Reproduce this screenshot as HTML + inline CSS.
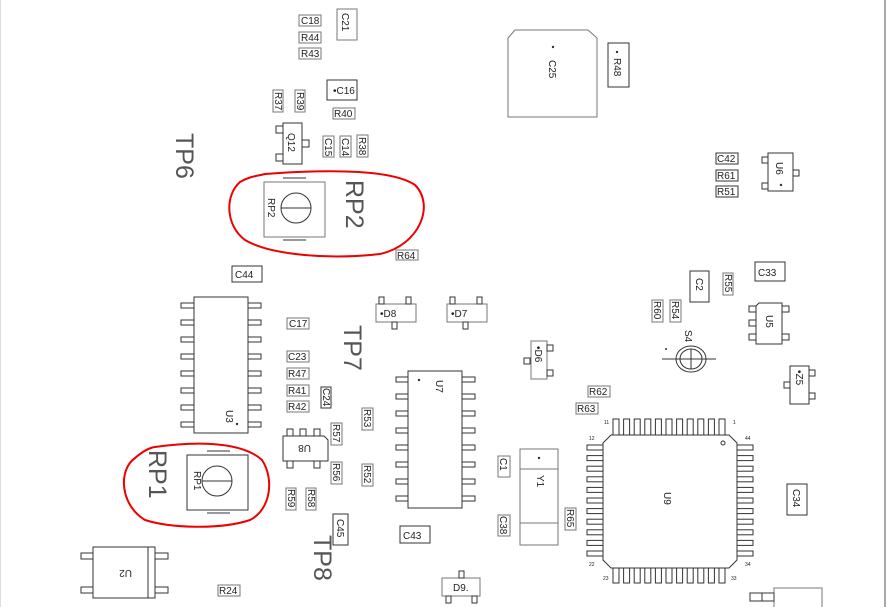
<!DOCTYPE html>
<html><head><meta charset="utf-8"><style>
html,body{margin:0;padding:0;background:#fff;width:893px;height:607px;overflow:hidden}
svg{display:block}
text{font-family:"Liberation Sans",sans-serif;fill:#222}
.s{font-size:10px}
.b{fill:none;stroke:#333;stroke-width:1}
.g{fill:none;stroke:#777;stroke-width:1}
.big{font-size:25px;fill:#555;font-weight:300}
</style></head><body>
<svg width="893" height="607" viewBox="0 0 893 607" xmlns="http://www.w3.org/2000/svg">
<line x1="885" y1="0" x2="885" y2="607" stroke="#aaa" stroke-width="2"/>
<line x1="0.5" y1="0" x2="0.5" y2="607" stroke="#ddd" stroke-width="1"/>

<rect class="g" x="299" y="15" width="22" height="11"/><text class="s" x="301" y="24">C18</text>
<rect class="g" x="299" y="32" width="22" height="11"/><text class="s" x="301" y="41">R44</text>
<rect class="g" x="299" y="48" width="22" height="11"/><text class="s" x="301" y="57">R43</text>
<rect class="g" x="337" y="9" width="20" height="31"/><text class="s" transform="translate(342,13) rotate(90)">C21</text>
<rect class="b" x="327" y="80" width="30" height="20"/><text class="s" x="333" y="94">•C16</text>
<rect class="g" x="273" y="90" width="10" height="22"/><text class="s" transform="translate(275,92) rotate(90)">R37</text>
<rect class="g" x="295" y="90" width="10" height="22"/><text class="s" transform="translate(297,92) rotate(90)">R39</text>
<rect class="g" x="333" y="108" width="22" height="11"/><text class="s" x="334" y="117">R40</text>
<rect class="b" x="283" y="123" width="19" height="41"/><text class="s" transform="translate(288,133) rotate(90)">Q12</text>
<rect class="b" x="276" y="126" width="7" height="7"/><rect class="b" x="276" y="154" width="7" height="7"/><rect class="b" x="302" y="140" width="7" height="7"/>
<rect class="g" x="323" y="136" width="11" height="21"/><text class="s" transform="translate(325,138) rotate(90)">C15</text>
<rect class="g" x="340" y="136" width="11" height="21"/><text class="s" transform="translate(342,138) rotate(90)">C14</text>
<rect class="g" x="357" y="135" width="11" height="22"/><text class="s" transform="translate(359,137) rotate(90)">R38</text>
<text class="big" transform="translate(176,133) rotate(90)">TP6</text>

<rect class="g" x="264" y="182" width="61" height="55"/>
<line x1="283" y1="178" x2="306" y2="178" stroke="#333"/><line x1="283" y1="240" x2="306" y2="240" stroke="#333"/>
<circle class="b" cx="296" cy="208" r="15"/><line x1="281" y1="208" x2="311" y2="208" stroke="#333"/>
<text class="s" transform="translate(268,198) rotate(90)">RP2</text>
<text class="big" transform="translate(346,180) rotate(90)">RP2</text>
<path d="M265,174 C320,170 390,168 415,185 C435,205 420,245 380,254 C330,260 270,255 245,240 C225,225 225,195 240,182 C250,176 258,176 265,174 Z" fill="none" stroke="#e00" stroke-width="2"/>
<rect class="g" x="396" y="250" width="22" height="10"/><text class="s" x="397" y="259">R64</text>
<rect class="b" x="232" y="266" width="30" height="16"/><text class="s" x="235" y="278">C44</text>

<rect class="b" x="194" y="297" width="54" height="136"/>
<text class="s" transform="translate(226,410) rotate(90)">U3</text><circle cx="237" cy="424" r="1.2" fill="#333"/>
<rect class="b" x="181" y="303" width="13" height="5"/><rect class="b" x="181" y="320" width="13" height="5"/><rect class="b" x="181" y="337" width="13" height="5"/><rect class="b" x="181" y="354" width="13" height="5"/><rect class="b" x="181" y="371" width="13" height="5"/><rect class="b" x="181" y="388" width="13" height="5"/><rect class="b" x="181" y="405" width="13" height="5"/><rect class="b" x="181" y="422" width="13" height="5"/>
<rect class="b" x="248" y="303" width="13" height="5"/><rect class="b" x="248" y="320" width="13" height="5"/><rect class="b" x="248" y="337" width="13" height="5"/><rect class="b" x="248" y="354" width="13" height="5"/><rect class="b" x="248" y="371" width="13" height="5"/><rect class="b" x="248" y="388" width="13" height="5"/><rect class="b" x="248" y="405" width="13" height="5"/><rect class="b" x="248" y="422" width="13" height="5"/>
<rect class="g" x="287" y="318" width="22" height="11"/><text class="s" x="289" y="327">C17</text>
<rect class="g" x="287" y="351" width="22" height="11"/><text class="s" x="288" y="360">C23</text>
<rect class="g" x="287" y="368" width="22" height="11"/><text class="s" x="288" y="377">R47</text>
<rect class="g" x="287" y="385" width="22" height="11"/><text class="s" x="288" y="394">R41</text>
<rect class="g" x="287" y="401" width="22" height="11"/><text class="s" x="288" y="410">R42</text>
<rect class="b" x="321" y="387" width="10" height="21"/><text class="s" transform="translate(323,388) rotate(90)">C24</text>
<text class="big" transform="translate(344,325) rotate(90)">TP7</text>

<rect class="g" x="376" y="304" width="40" height="18"/><text class="s" x="380" y="317">•D8</text>
<rect class="b" x="379" y="297" width="5" height="7"/><rect class="b" x="406" y="297" width="5" height="7"/><rect class="b" x="392" y="322" width="5" height="7"/>
<rect class="g" x="447" y="304" width="40" height="18"/><text class="s" x="451" y="317">•D7</text>
<rect class="b" x="450" y="297" width="5" height="7"/><rect class="b" x="477" y="297" width="5" height="7"/><rect class="b" x="463" y="322" width="5" height="7"/>
<rect class="g" x="531" y="341" width="16" height="38"/><text class="s" transform="translate(535,346) rotate(90)">•D6</text>
<rect class="b" x="547" y="345" width="6" height="6"/><rect class="b" x="547" y="370" width="6" height="6"/><rect class="b" x="524" y="358" width="6" height="6"/>

<rect class="b" x="408" y="371" width="54" height="137"/>
<text class="s" transform="translate(436,380) rotate(90)">U7</text><circle cx="419" cy="380" r="1.2" fill="#333"/>
<rect class="b" x="396" y="377" width="12" height="5"/><rect class="b" x="396" y="394" width="12" height="5"/><rect class="b" x="396" y="411" width="12" height="5"/><rect class="b" x="396" y="428" width="12" height="5"/><rect class="b" x="396" y="445" width="12" height="5"/><rect class="b" x="396" y="462" width="12" height="5"/><rect class="b" x="396" y="479" width="12" height="5"/><rect class="b" x="396" y="496" width="12" height="5"/>
<rect class="b" x="462" y="377" width="13" height="5"/><rect class="b" x="462" y="394" width="13" height="5"/><rect class="b" x="462" y="411" width="13" height="5"/><rect class="b" x="462" y="428" width="13" height="5"/><rect class="b" x="462" y="445" width="13" height="5"/><rect class="b" x="462" y="462" width="13" height="5"/><rect class="b" x="462" y="479" width="13" height="5"/><rect class="b" x="462" y="496" width="13" height="5"/>
<rect class="g" x="362" y="408" width="11" height="22"/><text class="s" transform="translate(364,409) rotate(90)">R53</text>
<rect class="g" x="362" y="464" width="11" height="22"/><text class="s" transform="translate(364,465) rotate(90)">R52</text>

<path class="b" d="M283,436 H324 L328,440 V461 H283 Z"/>
<text class="s" x="299" y="453" transform="rotate(180,305,449)">U8</text>
<rect class="b" x="287" y="429" width="6" height="7"/><rect class="b" x="300" y="429" width="6" height="7"/><rect class="b" x="314" y="429" width="6" height="7"/>
<rect class="b" x="287" y="461" width="6" height="7"/><rect class="b" x="314" y="461" width="6" height="7"/>
<rect class="g" x="331" y="423" width="11" height="22"/><text class="s" transform="translate(333,424) rotate(90)">R57</text>
<rect class="g" x="331" y="462" width="11" height="22"/><text class="s" transform="translate(333,463) rotate(90)">R56</text>
<rect class="g" x="286" y="488" width="10" height="22"/><text class="s" transform="translate(288,489) rotate(90)">R59</text>
<rect class="g" x="306" y="488" width="10" height="22"/><text class="s" transform="translate(308,489) rotate(90)">R58</text>
<rect class="b" x="333" y="514" width="15" height="31"/><text class="s" transform="translate(337,519) rotate(90)">C45</text>
<text class="big" transform="translate(314,535) rotate(90)">TP8</text>

<rect class="b" x="187" y="455" width="61" height="55"/>
<line x1="207" y1="451" x2="230" y2="451" stroke="#333"/><line x1="207" y1="513" x2="230" y2="513" stroke="#333"/>
<circle class="b" cx="217" cy="481" r="15"/><line x1="202" y1="481" x2="232" y2="481" stroke="#333"/>
<text class="s" transform="translate(194,471) rotate(90)">RP1</text>
<text class="big" transform="translate(149,450) rotate(90)">RP1</text>
<path d="M155,447 C190,442 240,440 262,460 C275,480 270,510 250,520 C220,530 170,528 145,520 C120,505 118,470 135,458 C142,452 148,448 155,447 Z" fill="none" stroke="#e00" stroke-width="2"/>

<rect class="b" x="93" y="547" width="62" height="51"/><line x1="148" y1="547" x2="148" y2="598" stroke="#333"/>
<text class="s" transform="rotate(180,123,574)" x="114" y="578">U2</text>
<rect class="b" x="81" y="553" width="12" height="6"/><rect class="b" x="81" y="587" width="12" height="6"/>
<rect class="b" x="155" y="553" width="13" height="6"/><rect class="b" x="155" y="587" width="13" height="6"/>
<rect class="g" x="218" y="585" width="22" height="11"/><text class="s" x="219" y="594">R24</text>

<rect class="b" x="400" y="526" width="30" height="17"/><text class="s" x="403" y="539">C43</text>
<rect class="g" x="498" y="456" width="12" height="21"/><text class="s" transform="translate(500,458) rotate(90)">C1</text>
<rect class="g" x="498" y="515" width="12" height="21"/><text class="s" transform="translate(500,516) rotate(90)">C38</text>
<rect class="g" x="520" y="449" width="38" height="96"/>
<line x1="520" y1="469" x2="558" y2="469" stroke="#777"/><line x1="520" y1="523" x2="558" y2="523" stroke="#777"/>
<circle cx="539" cy="458" r="1.2" fill="#333"/>
<text class="s" transform="translate(537,475) rotate(90)">Y1</text>
<rect class="g" x="565" y="508" width="11" height="22"/><text class="s" transform="translate(567,509) rotate(90)">R65</text>
<rect class="g" x="442" y="578" width="38" height="18"/><text class="s" x="453" y="591">D9.</text>
<rect class="b" x="459" y="571" width="5" height="7"/><rect class="b" x="446" y="596" width="5" height="7"/><rect class="b" x="472" y="596" width="5" height="7"/>
<rect class="g" x="588" y="386" width="22" height="11"/><text class="s" x="589" y="395">R62</text>
<rect class="g" x="576" y="403" width="22" height="11"/><text class="s" x="577" y="412">R63</text>

<path class="b" d="M611,435 H729 L737,443 V560 L729,568 H611 L603,560 V443 Z"/>
<text class="s" transform="translate(664,492) rotate(90)">U9</text>
<circle class="b" cx="723" cy="443" r="2"/>
<rect class="b" x="613" y="419" width="6" height="16"/><rect class="b" x="623.6" y="419" width="6" height="16"/><rect class="b" x="634.2" y="419" width="6" height="16"/><rect class="b" x="644.8" y="419" width="6" height="16"/><rect class="b" x="655.4" y="419" width="6" height="16"/><rect class="b" x="666" y="419" width="6" height="16"/><rect class="b" x="676.6" y="419" width="6" height="16"/><rect class="b" x="687.2" y="419" width="6" height="16"/><rect class="b" x="697.8" y="419" width="6" height="16"/><rect class="b" x="708.4" y="419" width="6" height="16"/><rect class="b" x="719" y="419" width="6" height="16"/>
<rect class="b" x="613" y="568" width="6" height="15"/><rect class="b" x="623.6" y="568" width="6" height="15"/><rect class="b" x="634.2" y="568" width="6" height="15"/><rect class="b" x="644.8" y="568" width="6" height="15"/><rect class="b" x="655.4" y="568" width="6" height="15"/><rect class="b" x="666" y="568" width="6" height="15"/><rect class="b" x="676.6" y="568" width="6" height="15"/><rect class="b" x="687.2" y="568" width="6" height="15"/><rect class="b" x="697.8" y="568" width="6" height="15"/><rect class="b" x="708.4" y="568" width="6" height="15"/><rect class="b" x="719" y="568" width="6" height="15"/>
<rect class="b" x="587" y="445" width="16" height="5"/><rect class="b" x="587" y="455.6" width="16" height="5"/><rect class="b" x="587" y="466.2" width="16" height="5"/><rect class="b" x="587" y="476.8" width="16" height="5"/><rect class="b" x="587" y="487.4" width="16" height="5"/><rect class="b" x="587" y="498" width="16" height="5"/><rect class="b" x="587" y="508.6" width="16" height="5"/><rect class="b" x="587" y="519.2" width="16" height="5"/><rect class="b" x="587" y="529.8" width="16" height="5"/><rect class="b" x="587" y="540.4" width="16" height="5"/><rect class="b" x="587" y="551" width="16" height="5"/>
<rect class="b" x="737" y="445" width="16" height="5"/><rect class="b" x="737" y="455.6" width="16" height="5"/><rect class="b" x="737" y="466.2" width="16" height="5"/><rect class="b" x="737" y="476.8" width="16" height="5"/><rect class="b" x="737" y="487.4" width="16" height="5"/><rect class="b" x="737" y="498" width="16" height="5"/><rect class="b" x="737" y="508.6" width="16" height="5"/><rect class="b" x="737" y="519.2" width="16" height="5"/><rect class="b" x="737" y="529.8" width="16" height="5"/><rect class="b" x="737" y="540.4" width="16" height="5"/><rect class="b" x="737" y="551" width="16" height="5"/>
<g style="font-size:5px"><text x="604" y="424">11</text><text x="733" y="424">1</text><text x="589" y="440">12</text><text x="745" y="440">44</text><text x="589" y="566">22</text><text x="745" y="566">34</text><text x="603" y="580">23</text><text x="731" y="580">33</text></g>

<rect class="b" x="690" y="271" width="19" height="31"/><text class="s" transform="translate(696,278) rotate(90)">C2</text>
<rect class="g" x="723" y="273" width="10" height="22"/><text class="s" transform="translate(725,274) rotate(90)">R55</text>
<rect class="g" x="652" y="300" width="11" height="22"/><text class="s" transform="translate(654,301) rotate(90)">R60</text>
<rect class="g" x="670" y="300" width="11" height="22"/><text class="s" transform="translate(672,301) rotate(90)">R54</text>
<text class="s" transform="translate(685,330) rotate(90)">S4</text>
<ellipse class="b" cx="691" cy="359" rx="15" ry="13"/><ellipse class="b" cx="691" cy="359" rx="11" ry="10"/>
<line x1="662" y1="359" x2="716" y2="359" stroke="#333"/><line x1="691" y1="349" x2="691" y2="369" stroke="#333"/>
<circle cx="666" cy="349" r="1" fill="#333"/>
<rect class="b" x="755" y="262" width="30" height="19"/><text class="s" x="758" y="276">C33</text>
<path class="b" d="M759,303 H782 V344 H756 V306 Z"/><text class="s" transform="translate(766,315) rotate(90)">U5</text>
<rect class="b" x="749" y="306" width="7" height="6"/><rect class="b" x="749" y="320" width="7" height="6"/><rect class="b" x="749" y="334" width="7" height="6"/>
<rect class="b" x="782" y="306" width="7" height="6"/><rect class="b" x="782" y="334" width="7" height="6"/>
<rect class="b" x="790" y="366" width="19" height="38"/><text class="s" transform="translate(796,370) rotate(90)">•Z5</text>
<rect class="b" x="809" y="370" width="6" height="6"/><rect class="b" x="809" y="393" width="6" height="6"/><rect class="b" x="784" y="382" width="6" height="6"/>
<rect class="b" x="787" y="484" width="20" height="31"/><text class="s" transform="translate(793,489) rotate(90)">C34</text>
<rect class="g" x="774" y="588" width="48" height="22"/>
<rect class="b" x="750" y="593" width="12" height="8"/><rect class="b" x="762" y="593" width="12" height="8"/>
<rect class="b" x="716" y="153" width="22" height="11"/><text class="s" x="717" y="162">C42</text>
<rect class="b" x="716" y="170" width="22" height="11"/><text class="s" x="717" y="179">R61</text>
<rect class="b" x="716" y="186" width="22" height="11"/><text class="s" x="717" y="195">R51</text>
<rect class="b" x="768" y="153" width="25" height="38"/><text class="s" transform="translate(776,162) rotate(90)">U6</text>
<rect class="b" x="762" y="157" width="6" height="6"/><rect class="b" x="762" y="183" width="6" height="6"/><rect class="b" x="793" y="170" width="6" height="6"/>
<circle cx="781" cy="185" r="1.2" fill="#333"/>
<path class="g" d="M515,30 H588 L597,38 V117 H508 V38 Z"/>
<circle cx="553" cy="47" r="1.2" fill="#333"/>
<text class="s" transform="translate(549,60) rotate(90)">C25</text>
<rect class="b" x="608" y="43" width="21" height="44"/><circle cx="617" cy="52" r="1.2" fill="#333"/>
<text class="s" transform="translate(614,58) rotate(90)">R48</text>
</svg>
</body></html>
